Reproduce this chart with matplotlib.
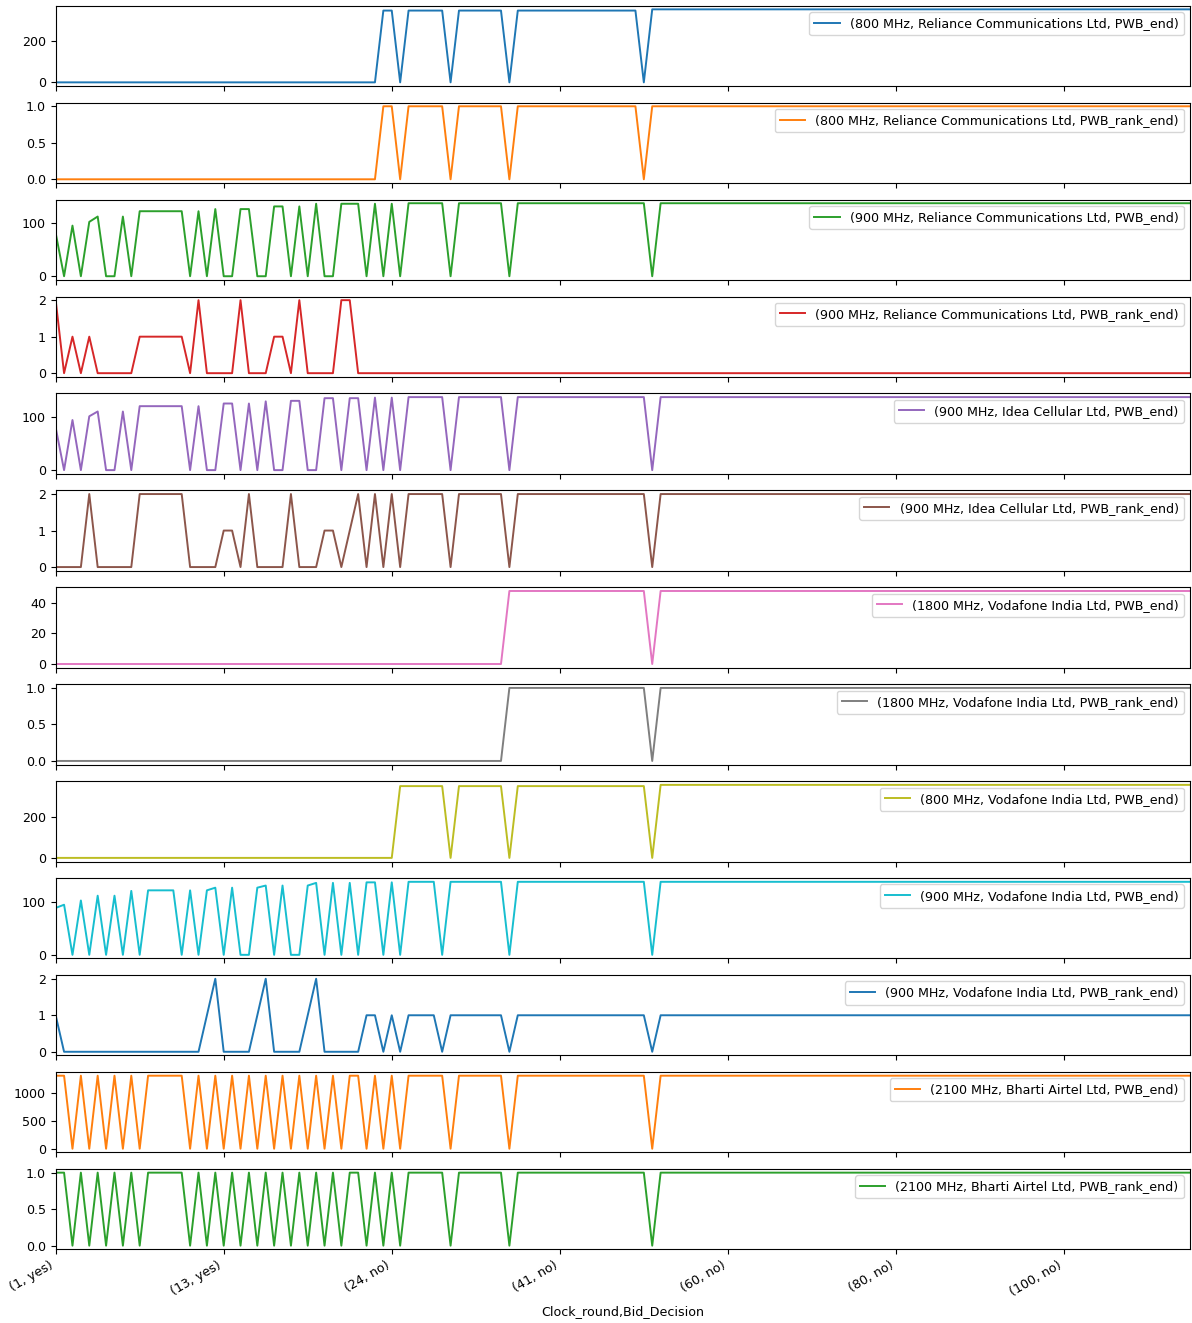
import numpy as np
import matplotlib
matplotlib.use("Agg")
import matplotlib.pyplot as plt
from matplotlib.ticker import MaxNLocator

plt.rcParams["font.size"] = 9.1
plt.rcParams["lines.linewidth"] = 1.4

# values, one entry per (Clock_round, Bid_Decision) row
rel800_pwb = [0] * 39 + [351, 351, 0] + [351] * 5 + [0] + [351] * 6 + [0] + [351] * 15 + [0] + [357] * 65
rel800_rank = [0] * 39 + [1, 1, 0] + [1] * 5 + [0] + [1] * 6 + [0] + [1] * 15 + [0] + [1] * 65

rel900_pwb = ([81, 0, 95, 0, 102, 112, 0, 0, 112, 0] + [122] * 6
              + [0, 122, 0, 126, 0, 0, 126, 126, 0, 0, 131, 131, 0, 131, 0, 136, 0, 0]
              + [136] * 3 + [0, 136, 0, 136, 0]
              + [137] * 5 + [0] + [137] * 6 + [0] + [137] * 16 + [0] + [137] * 64)
rel900_rank = ([2, 0, 1, 0, 1] + [0] * 5 + [1] * 6 + [0, 2] + [0] * 4 + [2] + [0] * 3
               + [1, 1, 0, 2] + [0] * 4 + [2, 2] + [0] * 100)

idea900_pwb = ([80, 0, 94, 0, 101, 110, 0, 0, 110, 0] + [120] * 6
               + [0, 120, 0, 0, 125, 125, 0, 125, 0, 129, 0, 0, 130, 130, 0, 0, 135, 135, 0, 135, 135]
               + [0, 136, 0, 136, 0]
               + [137] * 5 + [0] + [137] * 6 + [0] + [137] * 16 + [0] + [137] * 64)
idea900_rank = ([0] * 4 + [2] + [0] * 5 + [2] * 6 + [0] * 4 + [1, 1, 0, 2] + [0] * 4 + [2]
                + [0] * 3 + [1, 1, 0, 1, 2, 0, 2, 0, 2, 0]
                + [2] * 5 + [0] + [2] * 6 + [0] + [2] * 16 + [0] + [2] * 64)

voda1800_pwb = [0] * 54 + [47.7] * 17 + [0] + [47.7] * 64
voda1800_rank = [0] * 54 + [1] * 17 + [0] + [1] * 64

voda800_pwb = [0] * 41 + [348] * 6 + [0] + [348] * 6 + [0] + [348] * 16 + [0] + [354] * 64

voda900_pwb = ([88, 94, 0, 102, 0, 111, 0, 111, 0, 120, 0] + [121] * 4
               + [0, 121, 0, 121, 126, 0, 126, 0, 0, 126, 130, 0, 130, 0, 0, 130, 135, 0, 135, 0, 135, 0]
               + [136, 136, 0, 136, 0]
               + [137] * 4 + [0] + [137] * 7 + [0] + [137] * 16 + [0] + [137] * 64)
voda900_rank = ([1] + [0] * 17 + [1, 2] + [0] * 4 + [1, 2] + [0] * 4 + [1, 2] + [0] * 5
                + [1, 1, 0, 1, 0] + [1] * 4 + [0] + [1] * 7 + [0] + [1] * 16 + [0] + [1] * 64)

airtel2100_pwb = ([1310, 1310, 0, 1310, 0, 1310, 0, 1310, 0, 1310, 0] + [1310] * 5
                  + [0, 1310] * 9 + [0, 1310, 1310, 0, 1310, 0, 1310, 0]
                  + [1310] * 5 + [0] + [1310] * 6 + [0] + [1310] * 16 + [0] + [1310] * 64)
airtel2100_rank = ([1, 1, 0, 1, 0, 1, 0, 1, 0, 1, 0] + [1] * 5
                   + [0, 1] * 9 + [0, 1, 1, 0, 1, 0, 1, 0]
                   + [1] * 5 + [0] + [1] * 6 + [0] + [1] * 16 + [0] + [1] * 64)

series = [
    ("(800 MHz, Reliance Communications Ltd, PWB_end)", rel800_pwb),
    ("(800 MHz, Reliance Communications Ltd, PWB_rank_end)", rel800_rank),
    ("(900 MHz, Reliance Communications Ltd, PWB_end)", rel900_pwb),
    ("(900 MHz, Reliance Communications Ltd, PWB_rank_end)", rel900_rank),
    ("(900 MHz, Idea Cellular Ltd, PWB_end)", idea900_pwb),
    ("(900 MHz, Idea Cellular Ltd, PWB_rank_end)", idea900_rank),
    ("(1800 MHz, Vodafone India Ltd, PWB_end)", voda1800_pwb),
    ("(1800 MHz, Vodafone India Ltd, PWB_rank_end)", voda1800_rank),
    ("(800 MHz, Vodafone India Ltd, PWB_end)", voda800_pwb),
    ("(900 MHz, Vodafone India Ltd, PWB_end)", voda900_pwb),
    ("(900 MHz, Vodafone India Ltd, PWB_rank_end)", voda900_rank),
    ("(2100 MHz, Bharti Airtel Ltd, PWB_end)", airtel2100_pwb),
    ("(2100 MHz, Bharti Airtel Ltd, PWB_rank_end)", airtel2100_rank),
]

tick_pos = [0, 20, 40, 60, 80, 100, 120]
tick_labels = ["(1, yes)", "(13, yes)", "(24, no)", "(41, no)", "(60, no)", "(80, no)", "(100, no)"]

fig, axes = plt.subplots(len(series), 1, sharex=True, figsize=(11.92, 13.23))
fig.subplots_adjust(left=0.0467, right=0.9983, top=0.9957, bottom=0.0557, hspace=0.207)

for i, (ax, (name, vals)) in enumerate(zip(axes, series)):
    x = np.arange(len(vals))
    ax.plot(x, vals, color=f"C{i % 10}", label=name)
    ax.legend(loc="upper right")
    ax.yaxis.set_major_locator(MaxNLocator(nbins=3, steps=[1, 2, 2.5, 5, 10]))
    ax.set_xlim(0, len(vals) - 1)

axes[-1].set_xticks(tick_pos)
axes[-1].set_xticklabels(tick_labels, rotation=30, ha="right")
axes[-1].set_xlabel("Clock_round,Bid_Decision")

fig.savefig("out.png", dpi=100)
